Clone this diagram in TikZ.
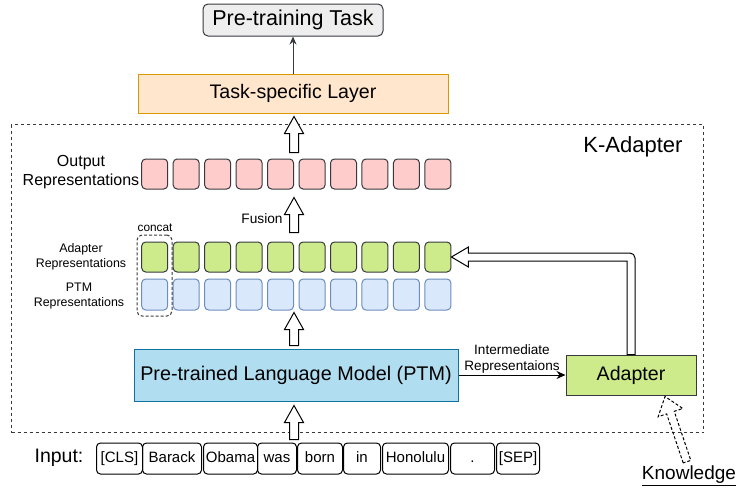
\documentclass[tikz,border=0pt]{standalone}
\usepackage{fontspec}
\setmainfont{Liberation Sans}
\usetikzlibrary{calc,arrows.meta}
\definecolor{dk}{HTML}{36393D}
\definecolor{pregray}{HTML}{EEEEEE}
\definecolor{taskfill}{HTML}{FFE6CC}
\definecolor{taskdraw}{HTML}{D79B00}
\definecolor{pinkfill}{HTML}{FFCCCC}
\definecolor{greenfill}{HTML}{CDEB8B}
\definecolor{bluefill}{HTML}{DAE8FC}
\definecolor{bluedraw}{HTML}{6C8EBF}
\definecolor{ptmfill}{HTML}{B1DDF0}
\definecolor{ptmdraw}{HTML}{10739E}
\newcommand\fs[2]{\fontsize{#1}{#2}\selectfont}
\newcommand\hollowarr[6][]{%
  \draw[hollow,#1] ($(#2)!#4!90:(#3)$) -- ($(#3)!#6!(#2)!#4!90:(#3)$) -- ($(#3)!#6!(#2)!#5!90:(#3)$) -- (#3)
   -- ($(#3)!#6!(#2)!#5!-90:(#3)$) -- ($(#3)!#6!(#2)!#4!-90:(#3)$) -- ($(#2)!#4!-90:(#3)$) -- cycle;}
\begin{document}
\begin{tikzpicture}[x=1pt,y=-1pt,line width=1pt,
  box/.style={draw=dk,inner sep=0pt,rounded corners=4pt,minimum width=26pt},
  pinkbox/.style={box,fill=pinkfill,minimum height=30pt},
  greenbox/.style={box,fill=greenfill,minimum height=30pt},
  bluebox/.style={box,draw=bluedraw,fill=bluefill,minimum height=31pt},
  tok/.style={draw=black,rounded corners=4pt,inner sep=0pt,minimum height=31pt,text height=11pt,text depth=3.5pt,anchor=west,font=\fs{15}{18}},
  lbl/.style={align=center,inner sep=0pt},
  hollow/.style={draw=black,fill=white,line width=1pt,line join=miter},
  thinarrow/.style={draw=dk,-{Stealth[length=8pt,width=7pt]}}]
\useasboundingbox (0,0) rectangle (736,488);
% K-Adapter frame
\node[draw=dk,dashed,dash pattern=on 3pt off 3pt,inner sep=0pt,minimum width=692pt,minimum height=308pt,anchor=north west] (kad) at (11,124) {};
\node[lbl,font=\fs{22}{26}] (kadl) at (633,147) {K-Adapter};
% top boxes
\node[draw=dk,fill=pregray,rounded corners=5pt,minimum width=180pt,minimum height=32pt,inner sep=0pt,font=\fs{21.5}{26}] (pre) at (293,20) {Pre-training Task};
\node[draw=taskdraw,fill=taskfill,minimum width=310pt,minimum height=39pt,inner sep=0pt,font=\fs{19.6}{24}] (task) at (293,93.5) {Task-specific Layer};
\draw[thinarrow] (task) -- (pre);
% representation rows
\foreach \i in {0,...,9}{
  \node[pinkbox] (o\i) at ({154.7+31.47*\i},174) {};
  \node[greenbox] (g\i) at ({154.7+31.47*\i},257) {};
  \node[bluebox] (b\i) at ({154.7+31.47*\i},294.5) {};
}
\node[lbl,font=\fs{16}{19}] (olbl) at (81,172) {Output\\Representations};
\node[lbl,font=\fs{12.4}{14.5}] (albl) at (81,257) {Adapter\\Representations};
\node[lbl,font=\fs{12.4}{14.5}] (plbl) at (79,296) {PTM\\Representations};
\node[draw=dk,dashed,dash pattern=on 3pt off 2pt,rounded corners=5pt,inner sep=0pt,minimum width=35pt,minimum height=81pt] (cc) at (154.5,275.5) {};
\node[lbl,font=\fs{11.8}{14}] (ccl) at (155,228) {concat};
% PTM and adapter
\node[draw=ptmdraw,fill=ptmfill,minimum width=324pt,minimum height=52pt,inner sep=0pt,font=\fs{19.8}{24}] (ptm) at (296,375) {Pre-trained Language Model (PTM)};
\node[draw=dk,fill=greenfill,minimum width=130pt,minimum height=40pt,inner sep=0pt,font=\fs{19.6}{24}] (adapter) at (631,375) {Adapter};
\draw[draw=black,-{Stealth[length=9pt,width=8pt]}] (ptm) -- node[above=1pt,lbl,font=\fs{13.6}{16},align=center]{Intermediate\\Representaions} (adapter);
% input tokens
\node[lbl,font=\fs{19.5}{23}] (inp) at (59,458) {Input:};
\node[tok,minimum width=46pt] (t1) at (96,458.5) {[CLS]};
\node[tok,minimum width=59pt] (t2) at (142,458.5) {Barack};
\node[tok,minimum width=54pt] (t3) at (203,458.5) {Obama};
\node[tok,minimum width=39pt] (t4) at (257,458.5) {was};
\node[tok,minimum width=45pt] (t5) at (297,458.5) {born};
\node[tok,minimum width=37pt] (t6) at (343,458.5) {in};
\node[tok,minimum width=66pt] (t7) at (382,458.5) {Honolulu};
\node[tok,minimum width=44pt] (t8) at (450,458.5) {.};
\node[tok,minimum width=43pt] (t9) at (496,458.5) {[SEP]};
% knowledge
\node[lbl,font=\fs{19}{23}] (know) at (689,476) {\underline{Knowledge}};
% hollow arrows
\coordinate (h1s) at ($(task.south |- o0.north)+(1,-6)$);
\coordinate (h1e) at ($(task.south)+(1,3)$);
\hollowarr{h1s}{h1e}{4.5pt}{9.5pt}{17pt}
\coordinate (h2s) at ($(task.south |- g0.north)+(1,-9)$);
\coordinate (h2e) at ($(task.south |- o0.south)+(1,8)$);
\hollowarr{h2s}{h2e}{4.5pt}{9.5pt}{17pt}
\node[lbl,font=\fs{13.7}{16}] (fus) at (262,219) {Fusion};
\coordinate (h3s) at ($(task.south |- ptm.north)+(1,-3)$);
\coordinate (h3e) at ($(task.south |- b0.south)+(1,2)$);
\hollowarr{h3s}{h3e}{4.5pt}{9.5pt}{17pt}
\coordinate (h4s) at ($(task.south |- t1.north)+(1,-3)$);
\coordinate (h4e) at ($(task.south |- ptm.south)+(1,4)$);
\hollowarr{h4s}{h4e}{4.5pt}{9.5pt}{17pt}
\coordinate (ktail) at ($(know.north)+(-2,-4)$);
\coordinate (ktip) at ($(adapter.south)+(34,1)$);
\hollowarr[dashed,dash pattern=on 3pt off 2pt,fill=none]{ktail}{ktip}{4pt}{13pt}{17pt}
% adapter -> adapter representations
\draw[hollow] let \p1=(adapter.north), \p2=(g9.east) in
  (\x1-4,\y1) -- (\x1-4,\y2-4) -- (\x2+17,\y2-4) -- (\x2+17,\y2-10) -- (\x2,\y2)
  -- (\x2+17,\y2+10) -- (\x2+17,\y2+4) [rounded corners=5pt] -- (\x1+4,\y2+4) [sharp corners] -- (\x1+4,\y1) -- cycle;
\end{tikzpicture}
\end{document}
